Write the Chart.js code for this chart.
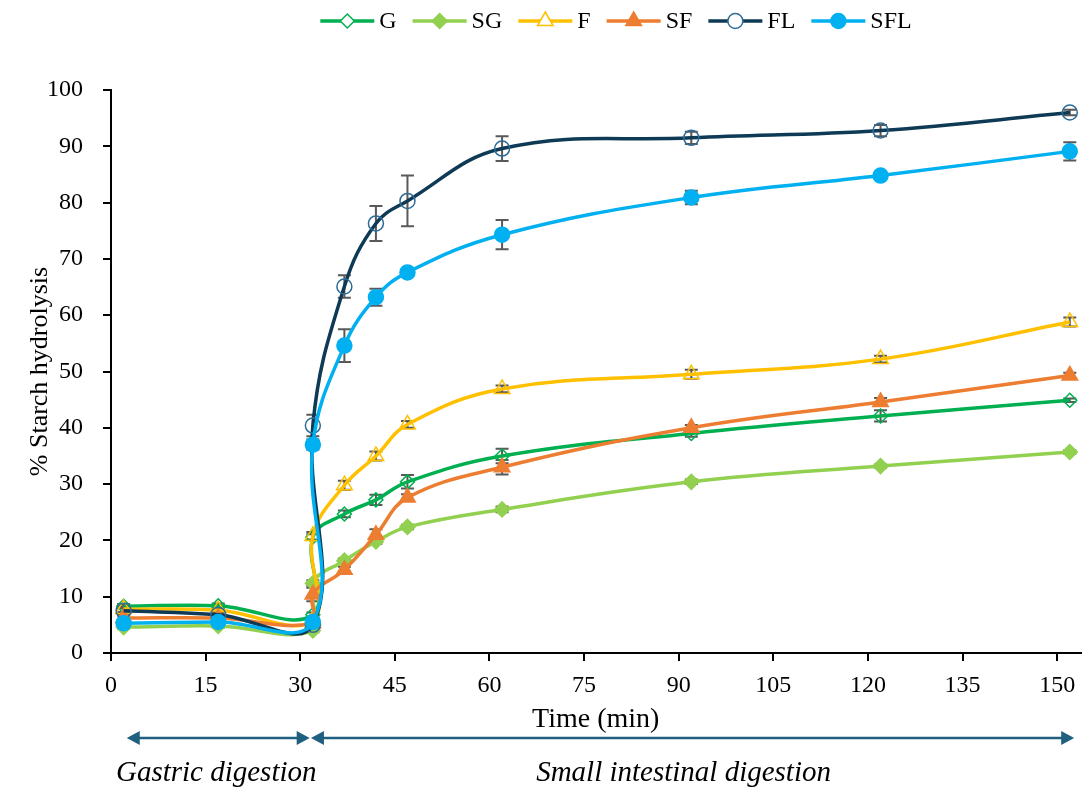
<!DOCTYPE html>
<html>
<head>
<meta charset="utf-8">
<script src="https://cdn.jsdelivr.net/npm/chart.js@4.4.1/dist/chart.umd.min.js"></script>
<style>
  html, body { margin: 0; padding: 0; background: #fff; }
  #wrap { width: 1091px; height: 792px; }
</style>
</head>
<body>
<div id="wrap"><canvas id="chart" width="1091" height="792"></canvas></div>
<script>
// sampling times (min) - 32 is there twice: end of gastric step, then start of intestinal step
const times = [2, 17, 32, 32, 37, 42, 47, 62, 92, 122, 152];

const gValues   = [8.3, 8.4, 6.8, 20.6, 24.7, 27.2, 30.4, 35.0, 39.0, 42.1, 44.9];
const sgValues  = [4.6, 4.8, 4.0, 12.4, 16.4, 19.8, 22.4, 25.5, 30.4, 33.2, 35.7];
const fValues   = [7.8, 7.6, 5.8, 20.8, 29.8, 35.0, 40.6, 46.9, 49.5, 52.2, 58.8];
const sfValues  = [6.2, 6.2, 5.3, 10.4, 14.8, 21.0, 27.6, 33.0, 40.0, 44.6, 49.3];
const flValues  = [7.5, 6.8, 5.0, 40.4, 65.1, 76.3, 80.3, 89.6, 91.5, 92.8, 96.0];
const sflValues = [5.3, 5.5, 5.5, 37.0, 54.6, 63.2, 67.6, 74.3, 80.9, 84.8, 89.1];

// error bars (+/-)
const gErr   = [0.4, 0.4, 0.4, 0.5, 0.6, 0.9, 1.2, 1.3, 0.6, 1.0, 0.3];
const sgErr  = [0.3, 0.3, 0.3, 0.5, 0.4, 0.4, 0.4, 0.5, 0.4, 0.3, 0.3];
const fErr   = [0.5, 0.5, 0.4, 0.7, 0.8, 0.8, 0.6, 0.6, 0.8, 0.6, 0.8];
const sfErr  = [0.4, 0.4, 0.4, 1.2, 0.5, 1.0, 0.6, 1.3, 0.5, 0.7, 0.5];
const flErr  = [0.6, 0.6, 0.5, 1.9, 2.0, 3.1, 4.5, 2.2, 1.1, 1.0, 0.5];
const sflErr = [0.4, 0.4, 0.4, 0.9, 2.9, 1.5, 0.4, 2.6, 1.2, 0.5, 1.6];

const xTicks = [0, 15, 30, 45, 60, 75, 90, 105, 120, 135, 150];

// digestion phases drawn as arrows under the axis
const phaseLabels = ['Gastric digestion', 'Small intestinal digestion'];
const phaseFrom = [2.5, 31.7];
const phaseTo = [31.5, 152.7];

const FONT = 'Liberation Serif';

const series = [
  { name: 'G',   values: gValues,   err: gErr,   color: '#00B050', marker: '#00B050', open: true,  shape: 'rectRot',  r: 7 },
  { name: 'SG',  values: sgValues,  err: sgErr,  color: '#92D050', marker: '#92D050', open: false, shape: 'rectRot',  r: 7.5 },
  { name: 'F',   values: fValues,   err: fErr,   color: '#FFC000', marker: '#FFC000', open: true,  shape: 'triangle', r: 9 },
  { name: 'SF',  values: sfValues,  err: sfErr,  color: '#ED7D31', marker: '#ED7D31', open: false, shape: 'triangle', r: 9 },
  { name: 'FL',  values: flValues,  err: flErr,  color: '#0E3A55', marker: '#2E6C98', open: true,  shape: 'circle',   r: 7.5 },
  { name: 'SFL', values: sflValues, err: sflErr, color: '#00B0F0', marker: '#00B0F0', open: false, shape: 'circle',   r: 7.5 }
];

// gray error bars, under the lines
const errorBars = {
  id: 'errorBars',
  beforeDatasetsDraw(chart) {
    const c = chart.ctx;
    const y = chart.scales.y;
    c.save();
    c.strokeStyle = '#595959';
    c.lineWidth = 2;
    series.forEach((s, i) => {
      const meta = chart.getDatasetMeta(i);
      meta.data.forEach((pt, j) => {
        const top = y.getPixelForValue(s.values[j] + s.err[j]);
        const bot = y.getPixelForValue(s.values[j] - s.err[j]);
        c.beginPath();
        c.moveTo(pt.x, top); c.lineTo(pt.x, bot);
        c.moveTo(pt.x - 6.5, top); c.lineTo(pt.x + 6.5, top);
        c.moveTo(pt.x - 6.5, bot); c.lineTo(pt.x + 6.5, bot);
        c.stroke();
      });
    });
    c.restore();
  }
};

// legend on top: short line with the marker in the middle
const topLegend = {
  id: 'topLegend',
  afterDraw(chart) {
    const c = chart.ctx;
    const lineLen = 54, gap = 5, itemGap = 16, cy = 21, center = 616;
    c.save();
    c.font = '24px "' + FONT + '"';
    const widths = series.map(s => lineLen + gap + c.measureText(s.name).width);
    const total = widths.reduce((a, b) => a + b, 0) + itemGap * (series.length - 1);
    let x = center - total / 2;
    series.forEach((s, i) => {
      c.strokeStyle = s.color;
      c.lineWidth = 3.5;
      c.beginPath();
      c.moveTo(x, cy); c.lineTo(x + lineLen, cy);
      c.stroke();
      c.fillStyle = s.open ? '#fff' : s.marker;
      c.strokeStyle = s.marker;
      c.lineWidth = 1.5;
      Chart.helpers.drawPoint(c, { pointStyle: s.shape, radius: s.r, rotation: 0, borderWidth: 1.5 }, x + lineLen / 2, cy);
      c.fillStyle = '#000';
      c.textBaseline = 'middle';
      c.textAlign = 'left';
      c.fillText(s.name, x + lineLen + gap, cy + 1);
      x += widths[i] + itemGap;
    });
    c.restore();
  }
};

function arrowHead(c, x, y, dir) {
  c.beginPath();
  c.moveTo(x, y);
  c.lineTo(x - dir * 13, y - 7);
  c.lineTo(x - dir * 13, y + 7);
  c.closePath();
  c.fill();
}

const phaseArrows = {
  id: 'phaseArrows',
  afterDraw(chart) {
    const c = chart.ctx;
    const xs = chart.scales.x;
    const ay = 738, ty = 773;
    c.save();
    c.strokeStyle = '#1F5F80';
    c.fillStyle = '#1F5F80';
    c.lineWidth = 2.5;
    phaseLabels.forEach((lab, i) => {
      const x1 = xs.getPixelForValue(phaseFrom[i]);
      const x2 = xs.getPixelForValue(phaseTo[i]);
      c.beginPath();
      c.moveTo(x1 + 6, ay); c.lineTo(x2 - 6, ay);
      c.stroke();
      arrowHead(c, x1, ay, -1);
      arrowHead(c, x2, ay, 1);
    });
    c.fillStyle = '#000';
    c.font = 'italic 29px "' + FONT + '"';
    c.textAlign = 'center';
    c.textBaseline = 'middle';
    phaseLabels.forEach((lab, i) => {
      const x1 = xs.getPixelForValue(phaseFrom[i]);
      const x2 = xs.getPixelForValue(phaseTo[i]);
      c.fillText(lab, (x1 + x2) / 2 - (i ? 9 : 2), ty);
    });
    c.restore();
  }
};

const ctx = document.getElementById('chart').getContext('2d');
new Chart(ctx, {
  type: 'line',
  data: {
    datasets: series.map((s, i) => ({
      label: s.name,
      data: times.map((t, j) => ({ x: t, y: s.values[j] })),
      borderColor: s.color,
      borderWidth: 3.5,
      tension: 0.4,
      fill: false,
      pointStyle: s.shape,
      pointRadius: s.r,
      pointBorderWidth: 1.5,
      pointBorderColor: s.marker,
      pointBackgroundColor: s.open ? 'rgba(0,0,0,0)' : s.marker,
      order: series.length - i
    }))
  },
  options: {
    responsive: false,
    animation: false,
    devicePixelRatio: 1,
    layout: { padding: { top: 90, left: 25, right: 5, bottom: 56 } },
    plugins: { legend: { display: false }, tooltip: { enabled: false } },
    scales: {
      x: {
        type: 'linear',
        min: 0,
        max: 153.7,
        afterBuildTicks: (sc) => { sc.ticks = xTicks.map(v => ({ value: v })); },
        afterFit: (sc) => { sc.height = 83; },
        grid: { drawOnChartArea: false, tickLength: 8, color: '#000', lineWidth: 2 },
        border: { color: '#000', width: 2 },
        ticks: { color: '#000', font: { family: FONT, size: 24 }, padding: 10, maxRotation: 0 },
        title: { display: true, text: 'Time (min)', color: '#000', font: { family: FONT, size: 28 }, padding: { top: 0, bottom: 0 } }
      },
      y: {
        min: 0,
        max: 100,
        afterFit: (sc) => { sc.width = 86; },
        grid: { drawOnChartArea: false, tickLength: 8, color: '#000', lineWidth: 2 },
        border: { color: '#000', width: 2 },
        ticks: { stepSize: 10, color: '#000', font: { family: FONT, size: 24 }, padding: 20 },
        title: { display: true, text: '% Starch hydrolysis', color: '#000', font: { family: FONT, size: 26 }, padding: { top: 0, bottom: 0 } }
      }
    }
  },
  plugins: [errorBars, topLegend, phaseArrows]
});
</script>
</body>
</html>
